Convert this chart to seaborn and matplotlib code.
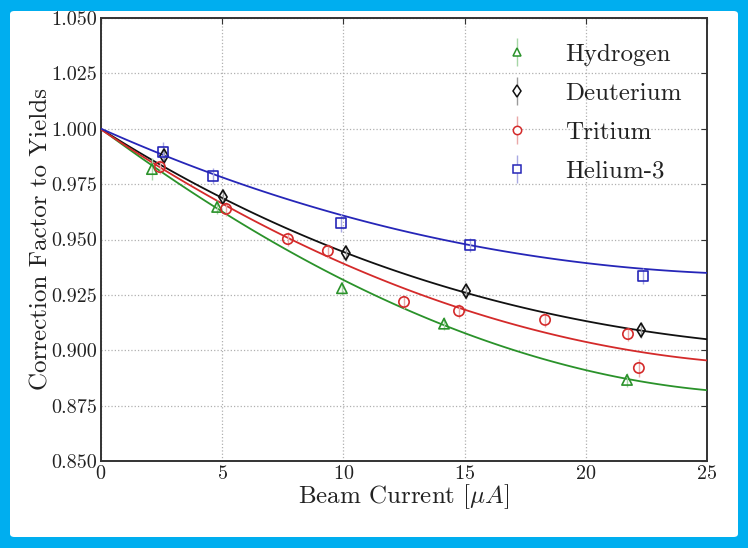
import numpy as np
import pandas as pd
import matplotlib
matplotlib.use("Agg")
import matplotlib.pyplot as plt
from matplotlib.patches import FancyBboxPatch
from matplotlib.lines import Line2D
from matplotlib.legend_handler import HandlerTuple
from matplotlib.ticker import FormatStrFormatter
import seaborn as sns

# ---------------- data ----------------
species = ["Hydrogen", "Deuterium", "Tritium", "Helium-3"]

h_x = [2.10, 4.79, 9.94, 14.15, 21.70]
h_y = [0.9818, 0.9647, 0.9280, 0.9120, 0.8866]
h_err = [0.0050, 0.0030, 0.0030, 0.0030, 0.0030]

d_x = [2.60, 5.03, 10.10, 15.06, 22.28]
d_y = [0.9877, 0.9692, 0.9439, 0.9267, 0.9091]
d_err = [0.0035, 0.0035, 0.0035, 0.0035, 0.0035]

t_x = [2.43, 5.16, 7.71, 9.36, 12.50, 14.77, 18.32, 21.74, 22.19]
t_y = [0.9827, 0.9638, 0.9502, 0.9448, 0.9218, 0.9177, 0.9137, 0.9073, 0.8920]
t_err = [0.0030, 0.0030, 0.0030, 0.0030, 0.0030, 0.0030, 0.0030, 0.0030, 0.0040]

he_x = [2.56, 4.62, 9.90, 15.22, 22.36]
he_y = [0.9895, 0.9787, 0.9575, 0.9475, 0.9335]
he_err = [0.0045, 0.0035, 0.0040, 0.0030, 0.0035]

# fitted curves
fit_x = [0, 5, 10, 15, 20, 25]
fit_h = [1.0, 0.9624, 0.9317, 0.9082, 0.8906, 0.8821]
fit_d = [1.0, 0.9683, 0.9448, 0.9263, 0.9128, 0.9051]
fit_t = [1.0, 0.9651, 0.9403, 0.9182, 0.9033, 0.8956]
fit_he = [1.0, 0.9782, 0.9606, 0.9480, 0.9394, 0.9349]

x_ticks = [0, 5, 10, 15, 20, 25]
y_ticks = [0.850, 0.875, 0.900, 0.925, 0.950, 0.975, 1.000, 1.025, 1.050]

colors = ["#2a922a", "#111111", "#d42a2a", "#2626b8"]
err_colors = ["#a6d6a6", "#9a9a9a", "#eaa8a8", "#a8a8e2"]
markers = ["^", "d", "o", "s"]

# ---------------- style ----------------
sns.set_style("whitegrid")
plt.rcParams["font.family"] = ["cmr10", "DejaVu Serif"]
plt.rcParams["mathtext.fontset"] = "cm"
plt.rcParams["axes.formatter.use_mathtext"] = True

fig = plt.figure(figsize=(7.48, 5.48), dpi=100)
fig.patch.set_facecolor("#00AEEF")
W, H = 748.0, 548.0
bg = FancyBboxPatch((10 / W, 11 / H), (738 - 10) / W, (537 - 11) / H,
                    boxstyle="round,pad=0,rounding_size=0.006",
                    transform=fig.transFigure, facecolor="white",
                    edgecolor="none", zorder=-10)
fig.add_artist(bg)

ax = fig.add_axes([101 / W, 1 - 461 / H, (707 - 101) / W, (461 - 18) / H])
ax.set_zorder(5)
ax.set_facecolor("white")

series = [
    (h_x, h_y, h_err, fit_h),
    (d_x, d_y, d_err, fit_d),
    (t_x, t_y, t_err, fit_t),
    (he_x, he_y, he_err, fit_he),
]

handles = []
for i, (xs, ys, es, fy) in enumerate(series):
    # fitted curve via seaborn polynomial regression on sampled curve points
    dfc = pd.DataFrame({"x": fit_x, "y": fy})
    sns.regplot(data=dfc, x="x", y="y", order=3, ci=None, scatter=False,
                ax=ax, line_kws=dict(color=colors[i], lw=1.3, zorder=3))
    # error bars
    ax.errorbar(xs, ys, yerr=es, fmt="none", ecolor=err_colors[i],
                elinewidth=1.0, capsize=0, zorder=4)
    # markers
    dfp = pd.DataFrame({"x": xs, "y": ys})
    sns.scatterplot(data=dfp, x="x", y="y", ax=ax, marker=markers[i],
                    s=55 if markers[i] != "d" else 50,
                    facecolors="none", edgecolor=colors[i], linewidth=1.2,
                    zorder=5)
    bar = Line2D([], [], linestyle="none", marker="|", markersize=20,
                 markeredgewidth=1.0, color=err_colors[i])
    mk = Line2D([], [], linestyle="none", marker=markers[i], markersize=6,
                mfc="white", mec=colors[i], mew=1.1)
    handles.append((bar, mk))

ax.set_xlim(0, 25)
ax.set_ylim(0.85, 1.05)
ax.set_xticks(x_ticks)
ax.set_yticks(y_ticks)
ax.yaxis.set_major_formatter(FormatStrFormatter("%.3f"))
ax.grid(True, color="#b0b0b0", linestyle=":", linewidth=0.9)
for s in ax.spines.values():
    s.set_color("#333333")
    s.set_linewidth(1.4)
ax.tick_params(axis="both", which="major", direction="in", length=4,
               top=True, right=True, labelsize=14.5, colors="#333333",
               labelcolor="#222222", pad=3)

ax.set_xlabel(r"Beam Current [$\mu A$]", fontsize=18, color="#222222", labelpad=-1)
ax.set_ylabel("Correction Factor to Yields", fontsize=18, color="#222222", labelpad=-1)

leg = ax.legend(handles=handles, labels=species, loc="upper right",
                frameon=False, fontsize=18, handlelength=1.0,
                handletextpad=1.42, labelspacing=0.66,
                handler_map={tuple: HandlerTuple(ndivide=1, pad=0)},
                bbox_to_anchor=(0.975, 0.966), borderaxespad=0)
for t in leg.get_texts():
    t.set_color("#222222")

fig.savefig("out.png", dpi=100, facecolor=fig.get_facecolor())
